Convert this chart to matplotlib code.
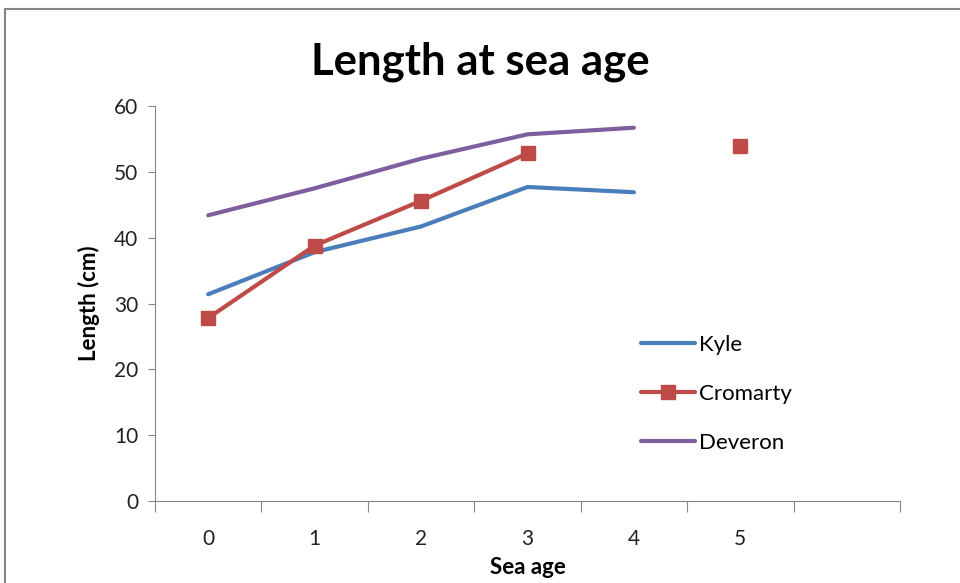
import numpy as np
import matplotlib
matplotlib.use("Agg")
import matplotlib.pyplot as plt
from matplotlib.patches import Rectangle

# sea age categories (last slot is an empty category)
ages = ["0", "1", "2", "3", "4", "5", ""]
kyle = [31.4, 37.8, 41.7, 47.7, 46.9, np.nan, np.nan]
cromarty = [27.8, 38.8, 45.6, 52.8, np.nan, 53.9, np.nan]
deveron = [43.4, 47.5, 52.0, 55.7, 56.7, np.nan, np.nan]

plt.rcParams['font.family'] = ['Lato', 'DejaVu Sans']

fig = plt.figure(figsize=(9.6, 5.83), dpi=100)
fig.patches.append(Rectangle((5 / 960, -0.1), 1.1, 1 - 9 / 583 + 0.1,
                             transform=fig.transFigure, fill=False,
                             edgecolor='#868686', linewidth=1.5))

ax = fig.add_axes([155 / 960, 1 - 501 / 583, 745 / 960, 395 / 583])
x = np.arange(len(ages))

ax.plot(x, kyle, color='#4A7EBB', lw=3, label='Kyle', solid_capstyle='round')
ax.plot(x, cromarty, color='#BE4B48', lw=3, marker='s', ms=10,
        label='Cromarty', solid_capstyle='round')
ax.plot(x, deveron, color='#7D5FA0', lw=3, label='Deveron', solid_capstyle='round')

ax.set_xlim(-0.5, len(ages) - 0.5)
ax.set_ylim(0, 60)
ax.set_yticks(range(0, 61, 10))
ax.set_xticks(np.arange(-0.5, len(ages), 1.0))
ax.set_xticklabels([])
ax.set_xticks(x, minor=True)
ax.set_xticklabels(ages, minor=True)
ax.tick_params(axis='x', which='major', length=8, color='#868686')
ax.tick_params(axis='x', which='minor', length=0, pad=20, labelsize=15,
               labelcolor='#222222')
ax.tick_params(axis='y', length=5, color='#868686', labelsize=15, pad=7,
               labelcolor='#222222')

for s in ['top', 'right']:
    ax.spines[s].set_visible(False)
for s in ['left', 'bottom']:
    ax.spines[s].set_color('#868686')

fig.text(0.5, 1 - 62 / 583, 'Length at sea age', fontsize=31.5,
         fontweight='bold', ha='center', va='center')
ax.set_xlabel('Sea age', fontsize=16, fontweight='bold', labelpad=6)
ax.set_ylabel('Length (cm)', fontsize=16, fontweight='bold', labelpad=10)

ax.legend(loc='center left', bbox_to_anchor=(0.626, 0.271), frameon=False,
          fontsize=16, handlelength=2.4, handletextpad=0.2, labelspacing=1.3)

fig.savefig('out.png', dpi=100)
